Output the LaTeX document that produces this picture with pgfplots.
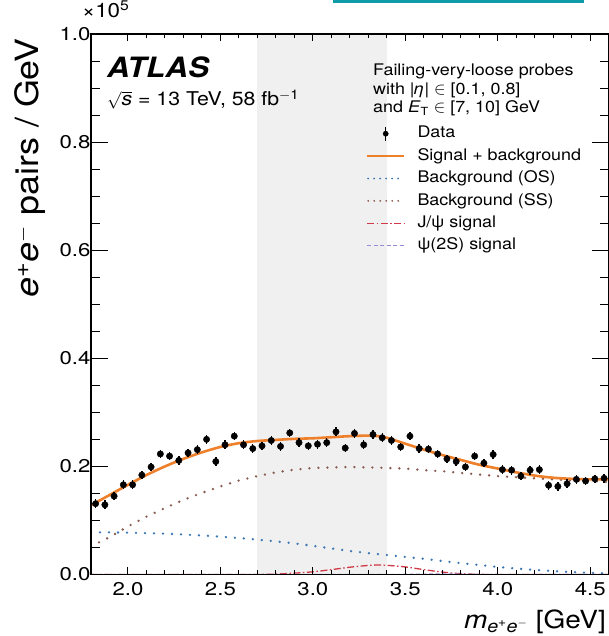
\documentclass[border=0pt]{standalone}
\usepackage{fontspec}
\setmainfont{TeX Gyre Heros}[FakeStretch=1.12]
\newfontfamily\tickfont{TeX Gyre Heros}[FakeStretch=1.2]
\usepackage{pgfplots}
\pgfplotsset{compat=1.18}

\definecolor{sigbkg}{RGB}{238,128,44}
\definecolor{bkgos}{RGB}{60,118,180}
\definecolor{bkgss}{RGB}{138,92,78}
\definecolor{jpsi}{RGB}{208,58,70}
\definecolor{psitwo}{RGB}{150,140,215}
\definecolor{band}{RGB}{240,240,240}
\definecolor{topbar}{RGB}{16,155,168}

\newcommand{\fs}[1]{\fontsize{#1}{#1}\selectfont}

\pgfplotstableread{
x y ey
1.825 0.131 0.008
1.875 0.129 0.008
1.925 0.145 0.008
1.975 0.166 0.008
2.025 0.166 0.008
2.075 0.184 0.008
2.125 0.199 0.008
2.175 0.223 0.008
2.225 0.219 0.008
2.275 0.211 0.008
2.325 0.225 0.008
2.375 0.231 0.008
2.425 0.250 0.008
2.475 0.209 0.008
2.525 0.240 0.008
2.575 0.256 0.008
2.625 0.240 0.008
2.675 0.233 0.008
2.725 0.238 0.008
2.775 0.248 0.008
2.825 0.237 0.008
2.875 0.262 0.008
2.925 0.244 0.008
2.975 0.238 0.008
3.025 0.241 0.008
3.075 0.244 0.008
3.125 0.264 0.008
3.175 0.234 0.008
3.225 0.261 0.008
3.275 0.240 0.008
3.325 0.259 0.008
3.375 0.253 0.008
3.425 0.248 0.008
3.475 0.236 0.008
3.525 0.256 0.008
3.575 0.233 0.008
3.625 0.232 0.008
3.675 0.223 0.008
3.725 0.214 0.008
3.775 0.209 0.008
3.825 0.199 0.008
3.875 0.219 0.008
3.925 0.206 0.008
3.975 0.222 0.008
4.025 0.194 0.008
4.075 0.193 0.008
4.125 0.182 0.008
4.175 0.193 0.008
4.225 0.194 0.008
4.275 0.165 0.008
4.325 0.163 0.008
4.375 0.168 0.008
4.425 0.176 0.008
4.475 0.173 0.008
4.525 0.177 0.008
4.575 0.178 0.008
}\datatable

% fitted components, in units of 10^5 pairs/GeV
\pgfplotstableread{
x total os ss jpsi psitwo
1.80 0.128 0.0780 0.052 0.0000 0.0000
1.90 0.147 0.0778 0.069 0.0000 0.0000
2.00 0.166 0.0774 0.089 0.0000 0.0000
2.10 0.184 0.0766 0.107 0.0000 0.0000
2.20 0.200 0.0755 0.123 0.0000 0.0000
2.30 0.214 0.0740 0.138 0.0000 0.0000
2.40 0.226 0.0722 0.151 0.0000 0.0000
2.50 0.236 0.0700 0.163 0.0000 0.0000
2.60 0.243 0.0675 0.174 0.0000 0.0000
2.70 0.247 0.0645 0.182 0.0000 0.0000
2.80 0.249 0.0612 0.189 0.0008 0.0000
2.90 0.251 0.0575 0.194 0.0025 0.0000
3.00 0.252 0.0530 0.197 0.0050 0.0000
3.10 0.254 0.0482 0.198 0.0090 0.0000
3.20 0.256 0.0435 0.199 0.0135 0.0000
3.30 0.257 0.0395 0.198 0.0168 0.0000
3.35 0.256 0.0378 0.198 0.0175 0.0000
3.40 0.253 0.0360 0.197 0.0170 0.0001
3.50 0.242 0.0325 0.196 0.0140 0.0003
3.60 0.231 0.0290 0.193 0.0090 0.0007
3.70 0.221 0.0250 0.191 0.0045 0.0010
3.80 0.212 0.0210 0.188 0.0015 0.0007
3.90 0.203 0.0175 0.185 0.0003 0.0003
4.00 0.196 0.0140 0.182 0.0000 0.0001
4.10 0.189 0.0110 0.180 0.0000 0.0000
4.20 0.183 0.0085 0.178 0.0000 0.0000
4.30 0.179 0.0063 0.176 0.0000 0.0000
4.40 0.177 0.0045 0.174 0.0000 0.0000
4.50 0.176 0.0030 0.173 0.0000 0.0000
4.60 0.176 0.0020 0.171 0.0000 0.0000
}\fittable

\begin{document}
\begin{tikzpicture}
\begin{axis}[
  at={(91pt,61.5pt)}, anchor=south west,
  width=517.7pt, height=540.5pt, scale only axis,
  xmin=1.8, xmax=4.6, ymin=0, ymax=1.0,
  xtick={2.0,2.5,...,4.5}, ytick={0,0.2,...,1.0},
  minor x tick num=4, minor y tick num=3,
  tick align=inside,
  major tick length=17pt, minor tick length=8.5pt,
  xtick style={/pgfplots/major tick length=7.5pt,/pgfplots/minor tick length=4pt},
  every tick/.style={black, line width=1pt},
  axis line style={line width=1.3pt},
  axis on top,
  /pgf/number format/assume math mode=true,
  xticklabel style={/pgf/number format/fixed, /pgf/number format/fixed zerofill,
    /pgf/number format/precision=1, yshift=-4pt},
  yticklabel style={/pgf/number format/fixed, /pgf/number format/fixed zerofill,
    /pgf/number format/precision=1, xshift=3pt},
  ticklabel style={font=\tickfont\fs{18.5}},
  scaled y ticks=false,
  clip=true,
  legend cell align=left,
  legend style={at={(axis description cs:0.531,0.8335)}, anchor=north west,
    draw=none, fill=none, font=\fs{16}, inner sep=0pt, outer sep=0pt,
    row sep=2.9pt,
    nodes={inner sep=1pt, text height=13pt, text depth=4.5pt},
    /tikz/every odd column/.append style={column sep=11pt}},
]
\fill[band] (axis cs:2.7,0) rectangle (axis cs:3.4,1.0);

\addplot[bkgos, line width=2.6pt, dash pattern=on 0pt off 9pt, line cap=round, forget plot]
  table[x=x, y=os] {\fittable};
\addplot[bkgss, line width=2.6pt, dash pattern=on 0pt off 9pt, line cap=round, forget plot]
  table[x=x, y=ss] {\fittable};
\addplot[jpsi, line width=1.3pt, dash pattern=on 7pt off 2.5pt on 1.5pt off 2.5pt, smooth, forget plot]
  table[x=x, y=jpsi] {\fittable};
\addplot[psitwo, line width=1.2pt, dash pattern=on 4pt off 2.5pt, smooth, forget plot]
  table[x=x, y=psitwo] {\fittable};
\addplot[sigbkg, line width=2.6pt, smooth, forget plot]
  table[x=x, y=total] {\fittable};
\addplot[only marks, mark=*, mark size=3.2pt, black, forget plot,
  error bars/.cd, y dir=both, y explicit,
  error bar style={line width=1.4pt}, error mark=none]
  table[x=x, y=y, y error=ey] {\datatable};

% legend entries
\addlegendimage{legend image code/.code={
  \path[draw=none] (0pt,0pt) -- (37pt,0pt);
  \draw[black, line width=1.4pt] (18.5pt,-7pt) -- (18.5pt,7pt);
  \fill[black] (18.5pt,0pt) circle (2.6pt);}}
\addlegendentry{Data}
\addlegendimage{legend image code/.code={
  \draw[sigbkg, line width=2.6pt] (0pt,0pt) -- (37pt,0pt);}}
\addlegendentry{Signal + background}
\addlegendimage{legend image code/.code={
  \draw[bkgos, line width=2pt, dash pattern=on 0pt off 6pt, line cap=round] (1pt,0pt) -- (37pt,0pt);}}
\addlegendentry{Background (OS)}
\addlegendimage{legend image code/.code={
  \draw[bkgss, line width=2pt, dash pattern=on 0pt off 6pt, line cap=round] (1pt,0pt) -- (37pt,0pt);}}
\addlegendentry{Background (SS)}
\addlegendimage{legend image code/.code={
  \draw[jpsi, line width=1.5pt, dash pattern=on 7pt off 2.5pt on 1.5pt off 2.5pt] (0pt,0pt) -- (37pt,0pt);}}
\addlegendentry{J/ψ signal}
\addlegendimage{legend image code/.code={
  \draw[psitwo, line width=1.5pt, dash pattern=on 4pt off 2.5pt] (0pt,0pt) -- (37pt,0pt);}}
\addlegendentry{ψ(2S) signal}
\end{axis}

% labels and annotations
\node[anchor=base east, rotate=90, inner sep=0pt, font=\fs{32}] at (38pt,598pt)
  {\textit{e}\textsuperscript{+}\textit{e}\textsuperscript{$-$} pairs / GeV};
\node[anchor=base east, inner sep=0pt, font=\fs{25}] at (606pt,8pt)
  {\textit{m}\textsubscript{\textit{e}\textsuperscript{+}\textit{e}\textsuperscript{$-$}} [GeV]};
\node[anchor=base west, inner sep=0pt, font=\fs{20}] at (82pt,618pt)
  {×10\textsuperscript{5}};
\node[anchor=base west, inner sep=0pt, font=\fs{28}\bfseries\itshape] at (107pt,558pt) {ATLAS};
\node[anchor=base west, inner sep=0pt, font=\fs{19}] at (107pt,530pt)
  {$\sqrt{\mbox{\textit{s}}}$ = 13 TeV, 58 fb\textsuperscript{$-$1}};
\node[anchor=base west, inner sep=0pt, font=\fs{16}] at (373pt,560pt) {Failing-very-loose probes};
\node[anchor=base west, inner sep=0pt, font=\fs{16}] at (373pt,541pt) {with |\textit{η}| $\in$ [0.1, 0.8]};
\node[anchor=base west, inner sep=0pt, font=\fs{16}] at (373pt,523pt) {and \textit{E}\textsubscript{T} $\in$ [7, 10] GeV};
\fill[topbar] (333pt,633pt) rectangle (584pt,636pt);
\pgfresetboundingbox
\useasboundingbox (0pt,0pt) rectangle (608pt,636pt);
\end{tikzpicture}
\end{document}
